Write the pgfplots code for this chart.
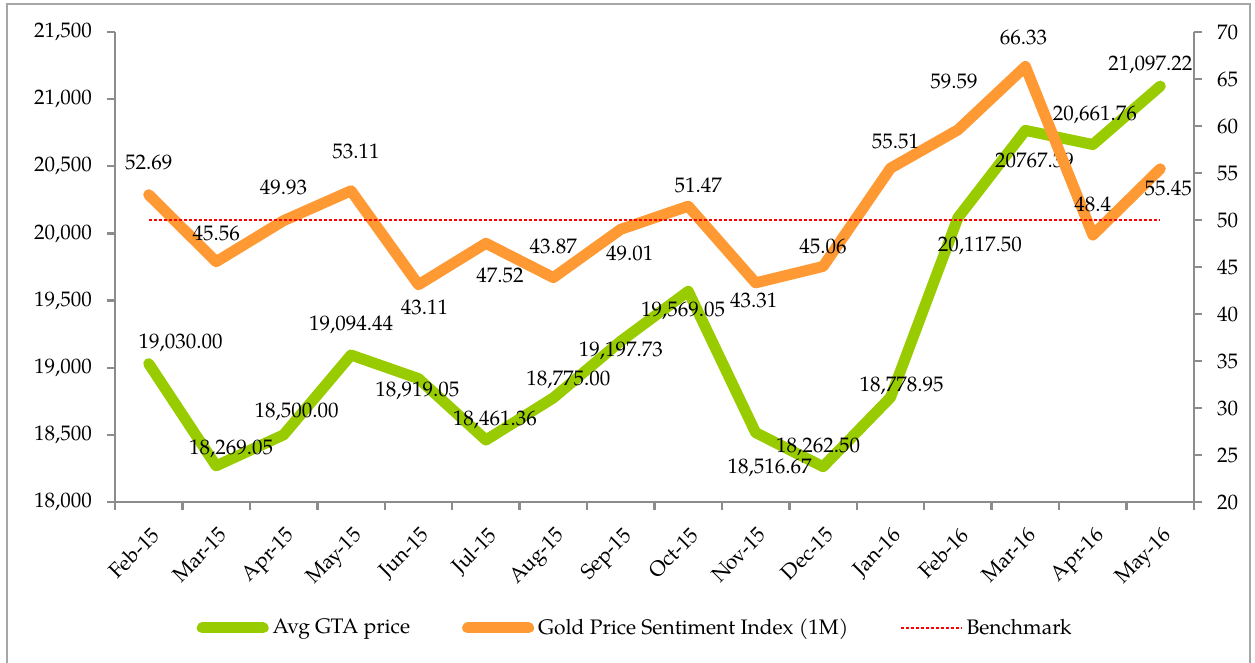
\documentclass[border=0pt]{standalone}
\usepackage{pgfplots}
\pgfplotsset{compat=1.18}
\usepackage{fontspec}
\setmainfont{TeX Gyre Pagella}
\definecolor{gtagreen}{HTML}{99CC00}
\definecolor{goldorange}{HTML}{FF9933}
\definecolor{axgray}{HTML}{8C8C8C}
\newcommand{\lbfont}{\fontsize{10.5pt}{12.5pt}\selectfont}
\newcommand{\lab}[5]{\node[font=\lbfont, inner sep=0pt, xshift={(#3)*0.5pt}, yshift={-(#4)*0.5pt}] at (axis cs:#1,#2) {#5};}
\begin{document}
\begin{tikzpicture}
\useasboundingbox (0pt,0pt) rectangle (627.5pt,331.5pt);
\draw[color=black!35, line width=1pt] (3.5pt,-3pt) -- (3.5pt,329.5pt) -- (625pt,329.5pt) -- (625pt,-3pt);
\pgfplotsset{
  base/.style={
    at={(57.5pt,80.5pt)}, anchor=south west,
    scale only axis, width=539.5pt, height=235pt,
    xmin=-0.5, xmax=15.5,
    clip=false,
    scaled y ticks=false,
    axis line style={axgray, line width=1.2pt},
    tick style={axgray, line width=1.2pt},
    tick align=outside,
    major tick length=4pt, minor tick length=4pt,
    tick label style={font=\lbfont},
    yticklabel style={/pgf/number format/fixed, /pgf/number format/1000 sep={,}, /pgf/number format/assume math mode=true},
  }
}
\begin{axis}[base,
  ymin=18000, ymax=21500,
  axis x line*=bottom, axis y line*=left,
  ytick={18000,18500,...,21500},
  xtick={0,...,15},
  xticklabels={Feb-15,Mar-15,Apr-15,May-15,Jun-15,Jul-15,Aug-15,Sep-15,Oct-15,Nov-15,Dec-15,Jan-16,Feb-16,Mar-16,Apr-16,May-16},
  minor xtick={-0.5,0.5,...,15.5},
  major x tick style={draw=none},
  xticklabel style={rotate=45, anchor=north east, inner sep=1pt, xshift=-4pt, yshift=-5pt},
  yticklabel style={xshift=-4pt},
]
\addplot[gtagreen, line width=5.5pt, line cap=round, line join=round] coordinates {
(0,19030.00) (1,18269.05) (2,18500.00) (3,19094.44) (4,18919.05) (5,18461.36) (6,18775.00) (7,19197.73)
(8,19569.05) (9,18516.67) (10,18262.50) (11,18778.95) (12,20117.50) (13,20767.39) (14,20661.76) (15,21097.22)};
\lab{0}{19030.00}{32}{-21}{19,030.00}
\lab{1}{18269.05}{15}{-17}{18,269.05}
\lab{2}{18500.00}{13}{-23}{18,500.00}
\lab{3}{19094.44}{0}{-30}{19,094.44}
\lab{4}{18919.05}{-1}{12}{18,919.05}
\lab{5}{18461.36}{9}{-20}{18,461.36}
\lab{6}{18775.00}{15}{-18}{18,775.00}
\lab{7}{19197.73}{0}{10}{19,197.73}
\lab{8}{19569.05}{-5}{20}{19,569.05}
\lab{9}{18516.67}{14}{35}{18,516.67}
\lab{10}{18262.50}{-5}{-20}{18,262.50}
\lab{11}{18778.95}{11}{-12}{18,778.95}
\lab{12}{20117.50}{22}{28}{20,117.50}
\lab{13}{20767.39}{9}{30}{20767.39}
\lab{14}{20661.76}{2}{-30}{20,661.76}
\lab{15}{21097.22}{-10}{-21}{21,097.22}
\end{axis}
\begin{axis}[base,
  ymin=20, ymax=70,
  axis x line=none, axis y line*=right,
  ytick={20,25,...,70},
  yticklabel style={xshift=4pt},
  legend columns=3,
  legend style={at={(0.483,-0.268)}, anchor=center, draw=none, fill=none, font=\lbfont,
    /tikz/every even column/.append style={column sep=24pt}},
  legend image code/.code={\draw[#1] (2.75pt,0pt) -- (33.25pt,0pt);},
]
\addlegendimage{gtagreen, line width=5.5pt, line cap=round}
\addlegendentry{Avg GTA price}
\addplot[goldorange, line width=5.5pt, line cap=round, line join=round] coordinates {
(0,52.69) (1,45.56) (2,49.93) (3,53.11) (4,43.11) (5,47.52) (6,43.87) (7,49.01)
(8,51.47) (9,43.31) (10,45.06) (11,55.51) (12,59.59) (13,66.33) (14,48.4) (15,55.45)};
\addlegendentry{Gold Price Sentiment Index (1M)}
\addplot[red, line width=0.6pt, dash pattern=on 1.5pt off 1pt] coordinates {(0,50) (15,50)};
\addlegendentry{Benchmark}
\lab{0}{52.69}{0}{-32}{52.69}
\lab{1}{45.56}{0}{-28}{45.56}
\lab{2}{49.93}{0}{-33}{49.93}
\lab{3}{53.11}{5}{-39}{53.11}
\lab{4}{43.11}{6}{23}{43.11}
\lab{5}{47.52}{14}{32}{47.52}
\lab{6}{43.87}{0}{-31}{43.87}
\lab{7}{49.01}{9}{24}{49.01}
\lab{8}{51.47}{10}{-21}{51.47}
\lab{9}{43.31}{-2}{18}{43.31}
\lab{10}{45.06}{0}{-20}{45.06}
\lab{11}{55.51}{5}{-27}{55.51}
\lab{12}{59.59}{-4}{-48}{59.59}
\lab{13}{66.33}{-2}{-29}{66.33}
\lab{14}{48.4}{0}{-31}{48.4}
\lab{15}{55.45}{8}{20}{55.45}
\end{axis}
\end{tikzpicture}
\end{document}
